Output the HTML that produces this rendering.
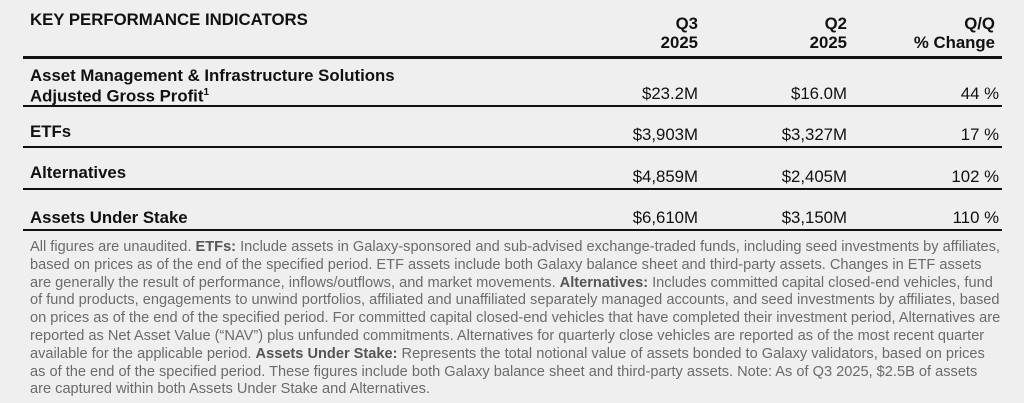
<!DOCTYPE html>
<html><head><style>
body{margin:0;width:1024px;height:403px;background:#efefef;font-family:"Liberation Sans",Arial,sans-serif;position:relative;overflow:hidden}
.a{position:absolute;white-space:nowrap}
.b{font-weight:bold;font-size:16.8px;color:#111}
.r{text-align:right}
.v{font-size:16.8px;color:#111}
.ln{position:absolute;left:23px;width:979px;background:#111}
.f{position:absolute;left:30px;font-size:14.6px;color:#6b6b6b;white-space:nowrap;line-height:17.8px;top:239px}
.f b{color:#555}
</style></head><body>
<div class="a b" style="left:30px;top:10px">KEY PERFORMANCE INDICATORS</div>
<div class="a b r" style="right:326px;top:14px;line-height:19px">Q3<br>2025</div>
<div class="a b r" style="right:177px;top:14px;line-height:19px">Q2<br>2025</div>
<div class="a b r" style="right:29px;top:14px;line-height:19px">Q/Q<br>% Change</div>
<div class="ln" style="top:56px;height:3px"></div>
<div class="a b" style="left:30px;top:67px;line-height:17px">Asset Management &amp; Infrastructure Solutions<br>Adjusted Gross Profit<sup style="font-size:10px">1</sup></div>
<div class="a v r" style="right:326px;top:84px">$23.2M</div>
<div class="a v r" style="right:177px;top:84px">$16.0M</div>
<div class="a v r" style="right:25px;top:84px">44 %</div>
<div class="ln" style="top:105px;height:2px"></div>
<div class="a b" style="left:30px;top:122px">ETFs</div>
<div class="a v r" style="right:326px;top:125px">$3,903M</div>
<div class="a v r" style="right:177px;top:125px">$3,327M</div>
<div class="a v r" style="right:25px;top:125px">17 %</div>
<div class="ln" style="top:146px;height:2px"></div>
<div class="a b" style="left:30px;top:163px">Alternatives</div>
<div class="a v r" style="right:326px;top:167px">$4,859M</div>
<div class="a v r" style="right:177px;top:167px">$2,405M</div>
<div class="a v r" style="right:25px;top:167px">102 %</div>
<div class="ln" style="top:188px;height:2px"></div>
<div class="a b" style="left:30px;top:208px">Assets Under Stake</div>
<div class="a v r" style="right:326px;top:208px">$6,610M</div>
<div class="a v r" style="right:177px;top:208px">$3,150M</div>
<div class="a v r" style="right:25px;top:208px">110 %</div>
<div class="ln" style="top:229px;height:2px"></div>
<div class="f">All figures are unaudited. <b>ETFs:</b> Include assets in Galaxy-sponsored and sub-advised exchange-traded funds, including seed investments by affiliates,<br>
based on prices as of the end of the specified period. ETF assets include both Galaxy balance sheet and third-party assets. Changes in ETF assets<br>
are generally the result of performance, inflows/outflows, and market movements. <b>Alternatives:</b> Includes committed capital closed-end vehicles, fund<br>
of fund products, engagements to unwind portfolios, affiliated and unaffiliated separately managed accounts, and seed investments by affiliates, based<br>
on prices as of the end of the specified period. For committed capital closed-end vehicles that have completed their investment period, Alternatives are<br>
reported as Net Asset Value (“NAV”) plus unfunded commitments. Alternatives for quarterly close vehicles are reported as of the most recent quarter<br>
available for the applicable period. <b>Assets Under Stake:</b> Represents the total notional value of assets bonded to Galaxy validators, based on prices<br>
as of the end of the specified period. These figures include both Galaxy balance sheet and third-party assets. Note: As of Q3 2025, $2.5B of assets<br>
are captured within both Assets Under Stake and Alternatives.</div>
</body></html>
